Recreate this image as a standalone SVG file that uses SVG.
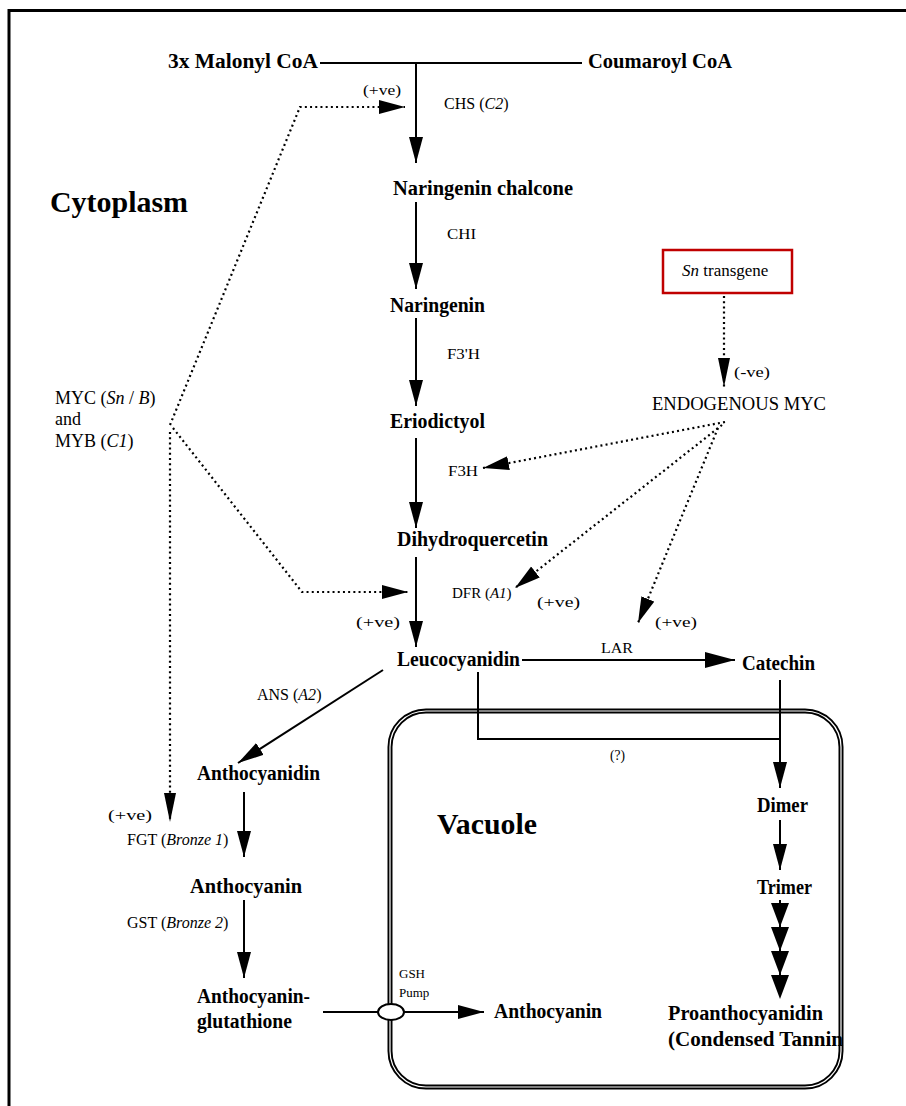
<svg xmlns="http://www.w3.org/2000/svg" width="906" height="1106" viewBox="0 0 906 1106">
<style>
text{font-family:"Liberation Serif","Times New Roman",serif;fill:#000}
.b{font-weight:bold;font-size:20px}
.s{font-size:15px}
.e{font-size:16px}
.xs{font-size:13px}
.m{font-size:18px}
.big{font-weight:bold;font-size:29px}
.i{font-style:italic}
.ln{stroke:#000;stroke-width:2;fill:none}
.dot{stroke:#000;stroke-width:2.2;stroke-dasharray:2 3.2;fill:none}
.head{fill:#000}
</style>
<defs>
<marker id="ah" markerUnits="userSpaceOnUse" markerWidth="28" markerHeight="16" refX="26" refY="7" orient="auto"><path d="M0,0 L26,7 L0,14 Z" fill="#000"/></marker>
<marker id="ahn" markerUnits="userSpaceOnUse" markerWidth="30" markerHeight="14" refX="29" refY="6" orient="auto"><path d="M0,0 L29,6 L0,12 Z" fill="#000"/></marker>
<marker id="ahw" markerUnits="userSpaceOnUse" markerWidth="32" markerHeight="18" refX="30" refY="8" orient="auto"><path d="M0,0 L30,8 L0,16 Z" fill="#000"/></marker>
</defs>
<rect width="906" height="1106" fill="#fff"/>
<path d="M9,1106 V10.5 H906" fill="none" stroke="#000" stroke-width="3"/>

<g id="vacuole">
<rect x="390" y="711" width="451" height="376" rx="36" fill="none" stroke="#000" stroke-width="5"/>
<rect x="390" y="711" width="451" height="376" rx="36" fill="none" stroke="#fff" stroke-width="1.2"/>
<text class="big" x="437" y="834" textLength="100" lengthAdjust="spacingAndGlyphs">Vacuole</text>
</g>

<g id="connectors">
<path class="ln" d="M320,63 H582" stroke-width="2.5"/>
<path class="ln" d="M416,63 V163" marker-end="url(#ah)"/>
<path class="ln" d="M416,202 V289" marker-end="url(#ah)"/>
<path class="ln" d="M416,318 V406" marker-end="url(#ah)"/>
<path class="ln" d="M416,438 V528" marker-end="url(#ah)"/>
<path class="ln" d="M416,557 V647" marker-end="url(#ah)"/>
<path class="ln" d="M522,660 H735" stroke-width="2.5" marker-end="url(#ahw)"/>
<path class="ln" d="M478,672 V739 H780"/>
<path class="ln" d="M780,680 V788" marker-end="url(#ah)"/>
<path class="ln" d="M780,820 V870" marker-end="url(#ah)"/>
<path class="ln" d="M780,900 V990"/>
<path class="head" d="M771,903 L789,903 L780,927 Z M771,927 L789,927 L780,951 Z M771,951 L789,951 L780,975 Z M771,975 L789,975 L780,999 Z"/>
<path class="ln" d="M383,670 L238,763" marker-end="url(#ah)"/>
<path class="ln" d="M244,792 V857" marker-end="url(#ah)"/>
<path class="ln" d="M244,900 V978" marker-end="url(#ah)"/>
<path class="ln" d="M323,1012 H378" stroke-width="2.5"/>
<path class="ln" d="M404,1012 H484" stroke-width="2.5" marker-end="url(#ah)"/>
<ellipse cx="391" cy="1012" rx="13" ry="8" fill="#fff" stroke="#000" stroke-width="2"/>
<path class="dot" d="M170,425 L300,107 H405" marker-end="url(#ah)"/>
<path class="dot" d="M173,428 L302,592 H408" marker-end="url(#ah)"/>
<path class="dot" d="M170,432 V822" marker-end="url(#ahn)"/>
<path class="dot" d="M724,296 V387" marker-end="url(#ahn)"/>
<path class="dot" d="M725,422 L483,468" marker-end="url(#ah)"/>
<path class="dot" d="M722,425 L515,588" marker-end="url(#ah)"/>
<path class="dot" d="M718,428 L638,623" marker-end="url(#ah)"/>
</g>

<g id="malonyl"><text class="b" x="168" y="68" textLength="150" lengthAdjust="spacingAndGlyphs">3x Malonyl CoA</text></g>
<g id="coumaroyl"><text class="b" x="588" y="68" textLength="144" lengthAdjust="spacingAndGlyphs">Coumaroyl CoA</text></g>
<g id="chalcone"><text class="b" x="393" y="195" textLength="180" lengthAdjust="spacingAndGlyphs">Naringenin chalcone</text></g>
<g id="naringenin"><text class="b" x="390" y="312" textLength="95" lengthAdjust="spacingAndGlyphs">Naringenin</text></g>
<g id="eriodictyol"><text class="b" x="390" y="428" textLength="95" lengthAdjust="spacingAndGlyphs">Eriodictyol</text></g>
<g id="dihydroquercetin"><text class="b" x="397" y="546" textLength="151" lengthAdjust="spacingAndGlyphs">Dihydroquercetin</text></g>
<g id="leucocyanidin"><text class="b" x="397" y="666" textLength="123" lengthAdjust="spacingAndGlyphs">Leucocyanidin</text></g>
<g id="catechin"><text class="b" x="742" y="670" textLength="73" lengthAdjust="spacingAndGlyphs">Catechin</text></g>
<g id="anthocyanidin"><text class="b" x="197" y="780" textLength="123" lengthAdjust="spacingAndGlyphs">Anthocyanidin</text></g>
<g id="anthocyanin1"><text class="b" x="190" y="893" textLength="112" lengthAdjust="spacingAndGlyphs">Anthocyanin</text></g>
<g id="glutathione"><text class="b" x="197" y="1003" textLength="113" lengthAdjust="spacingAndGlyphs">Anthocyanin-</text><text class="b" x="197" y="1028" textLength="95" lengthAdjust="spacingAndGlyphs">glutathione</text></g>
<g id="anthocyanin2"><text class="b" x="494" y="1018" textLength="108" lengthAdjust="spacingAndGlyphs">Anthocyanin</text></g>
<g id="dimer"><text class="b" x="757" y="812" textLength="51" lengthAdjust="spacingAndGlyphs">Dimer</text></g>
<g id="trimer"><text class="b" x="757" y="894" textLength="55" lengthAdjust="spacingAndGlyphs">Trimer</text></g>
<g id="proanthocyanidin"><text class="b" x="668" y="1020" textLength="155" lengthAdjust="spacingAndGlyphs">Proanthocyanidin</text><text class="b" x="668" y="1046" textLength="175" lengthAdjust="spacingAndGlyphs">(Condensed Tannin</text></g>
<g id="cytoplasm"><text class="big" x="50" y="212" textLength="138" lengthAdjust="spacingAndGlyphs">Cytoplasm</text></g>
<g id="sn-transgene">
<rect x="663" y="250" width="129" height="43" fill="none" stroke="#c00000" stroke-width="2.5"/>
<text x="682" y="276" font-size="17"><tspan class="i">Sn</tspan> transgene</text>
</g>
<g id="endogenous-myc"><text class="m" x="652" y="410" textLength="174" lengthAdjust="spacingAndGlyphs">ENDOGENOUS MYC</text></g>
<g id="myc-myb">
<text class="m" x="55" y="404">MYC (<tspan class="i">Sn</tspan> / <tspan class="i">B</tspan>)</text>
<text class="m" x="55" y="425">and</text>
<text class="m" x="55" y="447">MYB (<tspan class="i">C1</tspan>)</text>
</g>

<g id="labels">
<text class="e" x="444" y="109">CHS (<tspan class="i">C2</tspan>)</text>
<text class="s" x="447" y="239" textLength="29" lengthAdjust="spacingAndGlyphs">CHI</text>
<text class="s" x="447" y="359" textLength="33" lengthAdjust="spacingAndGlyphs">F3'H</text>
<text class="s" x="448" y="476" textLength="30" lengthAdjust="spacingAndGlyphs">F3H</text>
<text class="s" x="452" y="598">DFR (<tspan class="i">A1</tspan>)</text>
<text class="e" x="257" y="700">ANS (<tspan class="i">A2</tspan>)</text>
<text class="e" x="127" y="845">FGT (<tspan class="i">Bronze 1</tspan>)</text>
<text class="e" x="127" y="928">GST (<tspan class="i">Bronze 2</tspan>)</text>
<text class="s" x="601" y="653" textLength="32" lengthAdjust="spacingAndGlyphs">LAR</text>
<text class="s" x="610" y="760" textLength="15" lengthAdjust="spacingAndGlyphs">(?)</text>
<text class="xs" x="399" y="978">GSH</text>
<text class="xs" x="399" y="997">Pump</text>
<text class="s" x="363" y="95" textLength="38" lengthAdjust="spacingAndGlyphs">(+ve)</text>
<text class="s" x="356" y="627" textLength="44" lengthAdjust="spacingAndGlyphs">(+ve)</text>
<text class="s" x="537" y="607" textLength="43" lengthAdjust="spacingAndGlyphs">(+ve)</text>
<text class="s" x="655" y="627" textLength="42" lengthAdjust="spacingAndGlyphs">(+ve)</text>
<text class="s" x="108" y="820" textLength="44" lengthAdjust="spacingAndGlyphs">(+ve)</text>
<text class="s" x="734" y="377" textLength="36" lengthAdjust="spacingAndGlyphs">(-ve)</text>
</g>
</svg>
